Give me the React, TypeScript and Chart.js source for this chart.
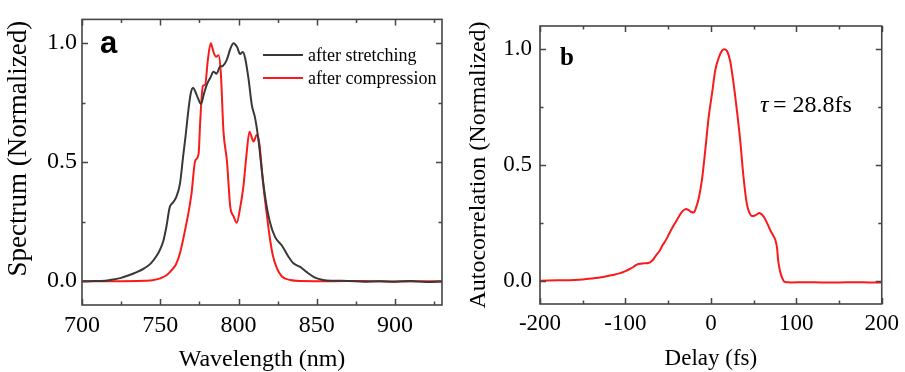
import React, { useEffect, useRef } from 'react';
import { Chart, registerables } from 'chart.js';

Chart.register(...registerables);

// ---------- Panel a: spectra ----------
const stretchWl = [700, 705, 710, 715, 720, 725, 730, 735, 740, 744, 748, 750, 752, 754, 756, 758, 760, 762.6, 764.7, 766, 768, 769.5, 771, 772.5, 774, 776, 778, 780, 782, 784, 786, 788, 790, 792.5, 794.7, 796.8, 799, 801, 802.8, 804.3, 806.4, 808.5, 810.6, 812.8, 814.9, 817, 820, 823.4, 827.7, 831.9, 835.1, 839.4, 843.6, 848.9, 854, 860, 870, 880, 890, 900, 910, 920, 930];
const stretchVal = [0.0, 0.0, 0.001, 0.002, 0.007, 0.014, 0.025, 0.038, 0.055, 0.075, 0.11, 0.135, 0.17, 0.232, 0.31, 0.33, 0.35, 0.41, 0.53, 0.6, 0.72, 0.79, 0.813, 0.795, 0.77, 0.745, 0.79, 0.83, 0.855, 0.88, 0.872, 0.9, 0.905, 0.93, 0.975, 1.0, 0.985, 0.955, 0.963, 0.935, 0.85, 0.74, 0.685, 0.59, 0.465, 0.355, 0.25, 0.185, 0.15, 0.103, 0.075, 0.06, 0.038, 0.015, 0.005, 0.002, 0.001, -0.002, 0.0, -0.002, 0.001, -0.003, -0.001];

const compWl = [700, 720, 740, 745, 750, 754, 757, 760, 762.8, 766, 768, 770, 772.3, 774.5, 775.5, 777.2, 778.7, 780.4, 782.3, 784, 785.7, 787.2, 788.7, 790.4, 792.6, 794.7, 796.8, 798.9, 801, 803.2, 804.9, 807, 809.6, 811.7, 813.4, 815.5, 817.7, 819.8, 821.9, 824.5, 827.7, 833, 840, 860, 880, 900, 930];
const compVal = [0, 0, 0.002, 0.004, 0.012, 0.025, 0.045, 0.07, 0.123, 0.22, 0.287, 0.37, 0.505, 0.535, 0.669, 0.82, 0.826, 0.93, 1.0, 0.963, 0.943, 0.949, 0.874, 0.628, 0.505, 0.314, 0.273, 0.246, 0.307, 0.403, 0.519, 0.628, 0.587, 0.615, 0.574, 0.423, 0.3, 0.191, 0.109, 0.055, 0.02, 0.005, 0.001, 0, 0.001, -0.001, 0];

const seriesNames = ['after stretching', 'after compression'];
const spectrumMinorX = [725, 775, 825, 875, 925];
const minorY = [0.25, 0.75];

// ---------- Panel b: autocorrelation ----------
const delayFs = [-200, -180, -160, -150, -140, -126, -115, -107, -100, -95.5, -90, -87.7, -82, -78, -73, -68, -64.5, -60, -56.8, -52, -49, -45, -41.3, -37, -34.3, -31, -29, -26, -23, -20, -17, -14, -10.3, -6.4, -2.5, 1.4, 5.2, 9.1, 13, 16.1, 19.2, 22.7, 26.5, 30.4, 34.3, 38.2, 42.1, 45, 47.1, 50, 53, 56.8, 60, 63, 67.2, 70, 73, 75.7, 77.5, 78.8, 80.5, 81.9, 84, 85.8, 90, 94.3, 110, 130, 150, 170, 185, 200];
const acVal = [0, 0.002, 0.004, 0.006, 0.01, 0.017, 0.025, 0.032, 0.042, 0.05, 0.062, 0.068, 0.074, 0.076, 0.077, 0.09, 0.108, 0.13, 0.152, 0.18, 0.202, 0.23, 0.253, 0.28, 0.296, 0.307, 0.31, 0.305, 0.297, 0.295, 0.32, 0.36, 0.44, 0.57, 0.71, 0.81, 0.91, 0.962, 0.994, 1.0, 0.99, 0.947, 0.853, 0.737, 0.607, 0.448, 0.332, 0.295, 0.282, 0.28, 0.285, 0.293, 0.285, 0.27, 0.238, 0.215, 0.195, 0.173, 0.14, 0.087, 0.05, 0.029, 0.008, -0.003, -0.006, -0.007, -0.006, -0.007, -0.007, -0.006, -0.007, -0.007];
const acMinorX = [-150, -50, 50, 150];

const SERIF = "'Liberation Serif', 'Times New Roman', serif";
const BLACK = '#383838';
const RED = '#fa1a1a';
const FRAME = '#454545';

const toXY = (xs: number[], ys: number[]) => xs.map((x, i) => ({ x, y: ys[i] }));

const frameTicksPlugin = {
  id: 'frameTicks',
  afterDatasetsDraw(chart: any, _args: any, opts: any) {
    const { ctx, chartArea } = chart;
    const { left, right, top, bottom } = chartArea;
    const xs = chart.scales.x;
    const ys = chart.scales.y;
    ctx.save();
    ctx.strokeStyle = FRAME;
    ctx.lineWidth = 1.5;
    ctx.beginPath();
    const major = 6;
    const minor = 3.5;
    const xt = (v: number, len: number) => {
      const p = Math.round(xs.getPixelForValue(v)) + 0.5;
      ctx.moveTo(p, bottom); ctx.lineTo(p, bottom - len);
      ctx.moveTo(p, top); ctx.lineTo(p, top + len);
    };
    const yt = (v: number, len: number) => {
      const p = Math.round(ys.getPixelForValue(v)) + 0.5;
      ctx.moveTo(left, p); ctx.lineTo(left + len, p);
      ctx.moveTo(right, p); ctx.lineTo(right - len, p);
    };
    xs.ticks.forEach((t: any) => xt(t.value, major));
    (opts.minorX || []).forEach((v: number) => xt(v, minor));
    ys.ticks.forEach((t: any) => yt(t.value, major));
    (opts.minorY || []).forEach((v: number) => yt(v, minor));
    ctx.stroke();
    ctx.lineWidth = 1.6;
    ctx.strokeRect(left, top, right - left, bottom - top);
    ctx.restore();
  },
};

const annotPlugin = {
  id: 'annot',
  afterDraw(chart: any, _args: any, opts: any) {
    const ctx = chart.ctx;
    ctx.save();
    (opts.items || []).forEach((it: any) => {
      ctx.font = it.font;
      ctx.fillStyle = it.color || '#000';
      ctx.textBaseline = 'alphabetic';
      ctx.textAlign = 'left';
      ctx.fillText(it.text, it.x, it.y);
    });
    if (opts.legend) {
      const lg = opts.legend;
      chart.data.datasets.forEach((ds: any, i: number) => {
        const y = lg.y + i * lg.gap;
        ctx.strokeStyle = ds.borderColor;
        ctx.lineWidth = 2;
        ctx.beginPath();
        ctx.moveTo(lg.x, y);
        ctx.lineTo(lg.x + lg.len, y);
        ctx.stroke();
        ctx.fillStyle = '#000';
        ctx.font = lg.font;
        ctx.textBaseline = 'alphabetic';
        ctx.fillText(ds.label, lg.x + lg.len + 5, y + 6);
      });
    }
    ctx.restore();
  },
};

function makeScales(cfg: any) {
  return {
    x: {
      type: 'linear',
      min: cfg.xmin,
      max: cfg.xmax,
      grid: { display: false, drawTicks: false },
      border: { display: false },
      ticks: {
        stepSize: cfg.xstep,
        includeBounds: false,
        padding: cfg.xTickPad,
        color: '#000',
        font: { family: SERIF, size: cfg.tickSize },
        callback: (v: any) => String(v),
        maxRotation: 0,
        autoSkip: false,
      },
      title: {
        display: true,
        text: cfg.xTitle,
        color: '#000',
        font: { family: SERIF, size: cfg.xTitleSize, lineHeight: 1 },
        padding: { top: 0, bottom: cfg.xTitlePadB },
      },
      afterFit: (s: any) => { s.height = cfg.xAxisH; },
    },
    y: {
      type: 'linear',
      min: -0.1,
      max: 1.1,
      grid: { display: false, drawTicks: false },
      border: { display: false },
      ticks: {
        stepSize: 0.5,
        includeBounds: false,
        padding: cfg.yTickPad,
        color: '#000',
        font: { family: SERIF, size: cfg.tickSize },
        callback: (v: any) => Number(v).toFixed(1),
      },
      title: {
        display: true,
        text: cfg.yTitle,
        color: '#000',
        font: { family: SERIF, size: cfg.yTitleSize, lineHeight: 1.2 },
        padding: { top: cfg.yTitlePadT, bottom: 0 },
      },
      afterFit: (s: any) => { s.width = cfg.yAxisW; },
    },
  };
}

function useChart(ref: React.RefObject<HTMLCanvasElement>, build: () => any) {
  useEffect(() => {
    if (!ref.current) return;
    const chart = new Chart(ref.current, build());
    return () => chart.destroy();
  }, []);
}

export default function App() {
  const aRef = useRef<HTMLCanvasElement>(null);
  const bRef = useRef<HTMLCanvasElement>(null);

  useChart(aRef, () => ({
    type: 'line',
    data: {
      datasets: [
        { label: seriesNames[0], data: toXY(stretchWl, stretchVal), borderColor: BLACK, borderWidth: 2, pointRadius: 0, cubicInterpolationMode: 'monotone', fill: false },
        { label: seriesNames[1], data: toXY(compWl, compVal), borderColor: RED, borderWidth: 2, pointRadius: 0, cubicInterpolationMode: 'monotone', fill: false },
      ],
    },
    options: {
      animation: false,
      responsive: false,
      devicePixelRatio: 1,
      layout: { padding: { left: 0, top: 12, right: 18, bottom: 0 } },
      plugins: {
        legend: { display: false },
        tooltip: { enabled: false },
        frameTicks: { minorX: spectrumMinorX, minorY },
        annot: {
          items: [{ text: 'a', x: 100, y: 53, font: `bold 31px 'Liberation Sans', Arial, sans-serif` }],
          legend: { x: 263, y: 55, gap: 23, len: 40, font: `18px ${SERIF}` },
        },
      },
      scales: makeScales({
        xmin: 700, xmax: 930, xstep: 50, tickSize: 24, xTickPad: 6,
        xTitle: 'Wavelength (nm)', xTitleSize: 24, xTitlePadB: 0, xAxisH: 67,
        yTickPad: 5, yTitle: '\u00a0\u00a0\u00a0\u00a0Spectrum (Normalized)', yTitleSize: 27, yTitlePadT: 3, yAxisW: 82,
      }),
    },
    plugins: [frameTicksPlugin, annotPlugin],
  }));

  useChart(bRef, () => ({
    type: 'line',
    data: {
      datasets: [
        { label: 'Autocorrelation', data: toXY(delayFs, acVal), borderColor: RED, borderWidth: 2, pointRadius: 0, cubicInterpolationMode: 'monotone', fill: false },
      ],
    },
    options: {
      animation: false,
      responsive: false,
      devicePixelRatio: 1,
      layout: { padding: { left: 0, top: 26, right: 21, bottom: 0 } },
      plugins: {
        legend: { display: false },
        tooltip: { enabled: false },
        frameTicks: { minorX: acMinorX, minorY },
        annot: {
          items: [
            { text: 'b', x: 100, y: 65, font: `bold 25px ${SERIF}` },
            { text: 'τ', x: 300, y: 112, font: `italic 24px ${SERIF}` },
            { text: '= 28.8fs', x: 313, y: 112, font: `24px ${SERIF}` },
          ],
        },
      },
      scales: makeScales({
        xmin: -200, xmax: 200, xstep: 100, tickSize: 23, xTickPad: 6,
        xTitle: 'Delay (fs)', xTitleSize: 23, xTitlePadB: 2, xAxisH: 68,
        yTickPad: 8, yTitle: 'Autocorrelation (Normalized)', yTitleSize: 24, yTitlePadT: 4, yAxisW: 80,
      }),
    },
    plugins: [frameTicksPlugin, annotPlugin],
  }));

  return (
    <div style={{ position: 'absolute', left: 0, top: 0, width: 905, height: 372, background: '#fff' }}>
      <div style={{ position: 'absolute', left: 0, top: 0, width: 460, height: 372 }}>
        <canvas ref={aRef} width={460} height={372} style={{ width: 460, height: 372, display: 'block' }} />
      </div>
      <div style={{ position: 'absolute', left: 460, top: 0, width: 445, height: 372 }}>
        <canvas ref={bRef} width={445} height={372} style={{ width: 445, height: 372, display: 'block' }} />
      </div>
    </div>
  );
}
